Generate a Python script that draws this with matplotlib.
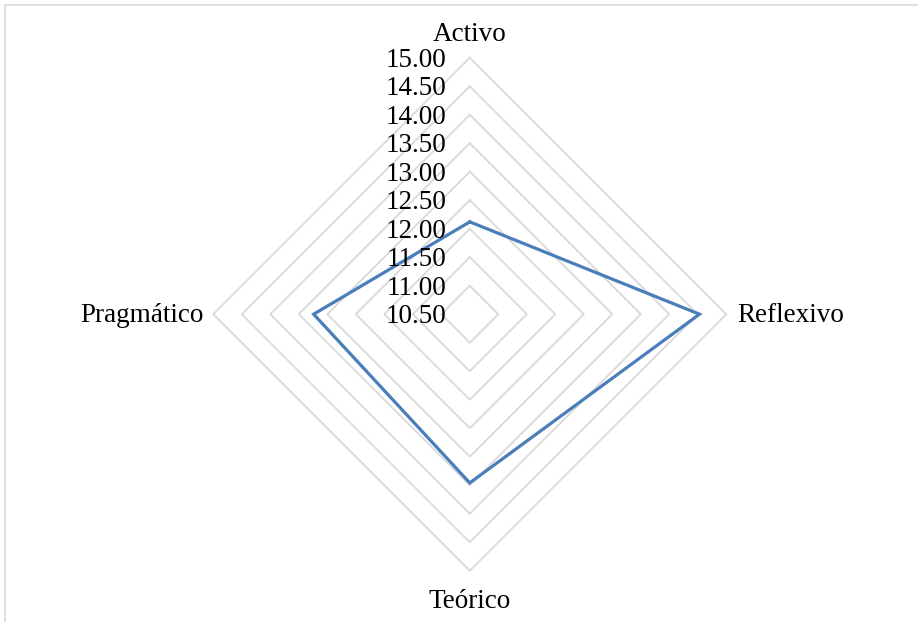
import numpy as np
import matplotlib.pyplot as plt
from matplotlib.patches import Rectangle

# Estilos de aprendizaje (puntuación media)
categories = ["Activo", "Reflexivo", "Teórico", "Pragmático"]
values = [12.12, 14.53, 13.46, 13.24]
ticks = [10.50, 11.00, 11.50, 12.00, 12.50, 13.00, 13.50, 14.00, 14.50, 15.00]

rmin, rmax = ticks[0], ticks[-1]
W, H = 918, 622
cx, cy, R = 469.8, 314.2, 256.5   # centro y radio del radar en píxeles
k = R / (rmax - rmin)
span = rmax - rmin

fig = plt.figure(figsize=(W / 100, H / 100), dpi=100)
ax = fig.add_axes([0, 0, 1, 1])
ax.set_xlim(-cx / k, (W - cx) / k)
ax.set_ylim(-(H - cy) / k, cy / k)
ax.axis("off")

# marco del área del gráfico
fig.patches.append(Rectangle((5 / W, -0.1), 1.2, 1 - 5 / H + 0.1, transform=fig.transFigure,
                             fill=False, edgecolor="#D9D9D9", linewidth=1.2))

# ejes: Activo arriba, sentido horario
ang = np.pi / 2 - np.arange(len(categories)) * 2 * np.pi / len(categories)

def xy(vals):
    r = np.asarray(vals) - rmin
    return r * np.cos(ang), r * np.sin(ang)

# rejilla poligonal
for t in ticks[1:]:
    gx, gy = xy([t] * len(categories))
    ax.plot(np.append(gx, gx[0]), np.append(gy, gy[0]), color="#D9D9D9", lw=1.3, zorder=1)

# serie
px, py = xy(values)
ax.plot(np.append(px, px[0]), np.append(py, py[0]), color="#4A7EBB", lw=2.3,
        solid_joinstyle="miter", zorder=3)

font = dict(family="Liberation Serif", fontsize=19.5, color="black", va="baseline")

# etiquetas del eje de valores
for t in ticks:
    ax.text(-23 / k, t - rmin - 9 / k, f"{t:.2f}", ha="right", **font)

# etiquetas de categoría
ax.text(0, span + 17 / k, categories[0], ha="center", **font)
ax.text(span + 267 / k - R / k, -8 / k, categories[1], ha="left", **font)
ax.text(0, -span - 37 / k, categories[2], ha="center", **font)
ax.text(-span - 10 / k, -8 / k, categories[3], ha="right", **font)

fig.savefig("out.png", dpi=100)
